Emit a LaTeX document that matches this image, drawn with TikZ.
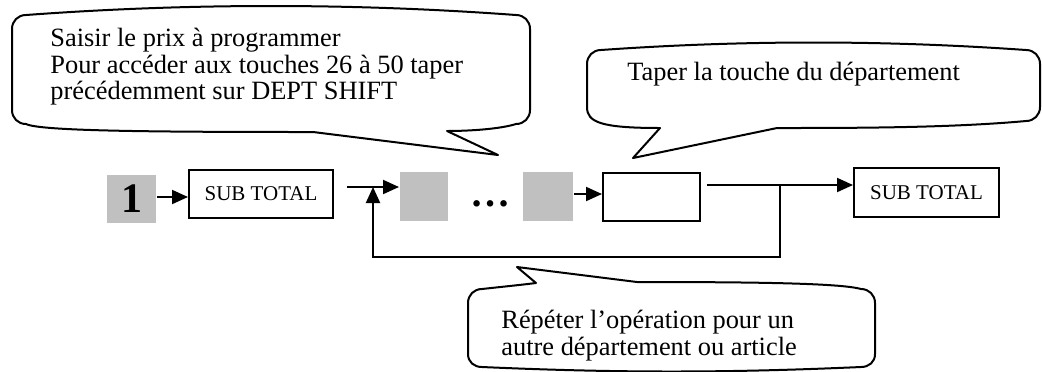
\documentclass[tikz,border=0pt]{standalone}
\usepackage{fontspec}
\setmainfont{Liberation Serif}
\usetikzlibrary{arrows.meta}

\definecolor{touchegris}{RGB}{192,192,192}

\tikzset{
  bulle/.style={draw, line width=1pt, line join=round},
  texte/.style={anchor=north west, inner sep=0pt, align=left,
                font=\fontsize{13.2}{13.2}\selectfont},
}

\begin{document}
\begin{tikzpicture}[x=0.5pt, y=-0.5pt]
\useasboundingbox (0,0) rectangle (1042,371);

% les bulles
\draw[bulle] (12,110) -- (12,29) .. controls (12,21) and (18,15) .. (26,15)
  .. controls (189,3) and (353,3) .. (516,15)
  .. controls (524,15) and (530,21) .. (530,29) -- (530,110)
  .. controls (530,118) and (524,124) .. (516,124)
  .. controls (500,129) and (470,131) .. (447,131) -- (498,155) -- (313,132)
  .. controls (150,132) and (40,131) .. (26,124)
  .. controls (18,124) and (12,118) .. cycle;

\draw[bulle] (587,107) -- (587,64) .. controls (587,56) and (593,50) .. (601,50)
  .. controls (743,40) and (884,40) .. (1026,50)
  .. controls (1034,50) and (1040,56) .. (1040,64) -- (1040,107)
  .. controls (1040,115) and (1034,121) .. (1026,121)
  .. controls (950,128) and (850,128) .. (777,128) -- (633,158) -- (660,128)
  .. controls (600,128) and (587,122) .. cycle;

\draw[bulle] (468,354) -- (468,303) .. controls (468,295) and (474,289) .. (482,289)
  .. controls (500,287) and (520,285) .. (536,283) -- (517,267) -- (637,282)
  .. controls (750,282) and (840,283) .. (861,289)
  .. controls (869,289) and (875,295) .. (875,303) -- (875,354)
  .. controls (875,362) and (869,367) .. (861,367)
  .. controls (725,373) and (618,373) .. (482,367)
  .. controls (474,367) and (468,362) .. cycle;

\node (aide1) at (50,28) [texte] {Saisir le prix à programmer\\
  Pour accéder aux touches 26 à 50 taper\\précédemment sur DEPT SHIFT};
\node (aide2) at (627,62) [texte] {Taper la touche du département};
\node (aide3) at (501,310) [texte] {Répéter l’opération pour un\\
  autre département ou article};

% les touches
\begin{scope}[every node/.style={line width=1pt, inner sep=0pt,
                                 font=\fontsize{10.5}{12}\selectfont}]
    \node (un) at (131.5,199) [fill=touchegris, minimum width=24.5pt, minimum height=24pt]
        {\fontsize{21}{24}\selectfont\bfseries 1};
    \node (total1) at (261,194) [draw, minimum width=72pt, minimum height=24pt] {SUB TOTAL};
    \node (prix1) at (424,196.5) [fill=touchegris, minimum width=24pt, minimum height=24.5pt] {};
    \node (points) at (490,204) {\fontsize{20}{22}\selectfont\bfseries …};
    \node (prix2) at (548,196.5) [fill=touchegris, minimum width=25pt, minimum height=24.5pt] {};
    \node (dept) at (651.5,197) [draw, minimum width=48.5pt, minimum height=24pt] {};
    \node (total2) at (926.5,192.5) [draw, minimum width=72.5pt, minimum height=24.5pt] {SUB TOTAL};
\end{scope}

\coordinate (depart) at (347,187);
\coordinate (retour) at (373,187);
\coordinate (sortie) at (707,185);
\coordinate (fourche) at (780,185);

\begin{scope}[>={Triangle[length=8pt, width=7pt]}, line width=1pt]
    \draw [->] (un.east |- 0,197) -- (total1.west |- 0,197);
    \draw [->] (depart) -- (depart -| prix1.west);
    \draw [->] (prix2.east |- 0,194) -- (dept.west |- 0,194);
    \draw [->] (sortie) -- (sortie -| total2.west);
    \draw [->] (fourche) -- ++(0,72) -| (retour);
\end{scope}
\end{tikzpicture}
\end{document}
